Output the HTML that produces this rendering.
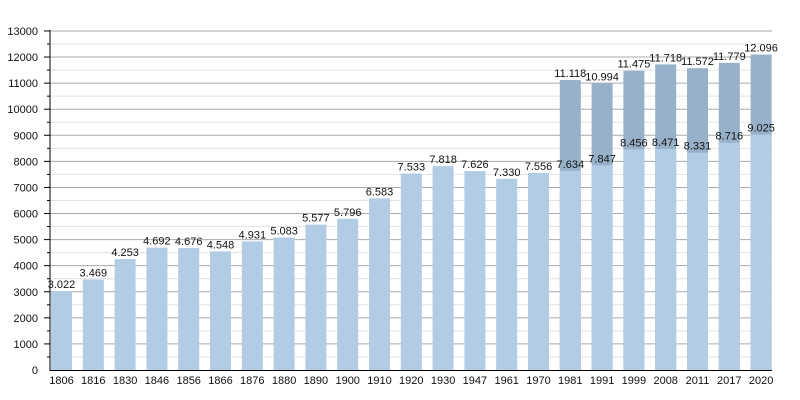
<!DOCTYPE html>
<html><head><meta charset="utf-8"><style>
html,body{margin:0;padding:0;background:#fff;width:800px;height:400px;overflow:hidden}
svg text{font-family:"Liberation Sans",sans-serif;font-size:11px;fill:#111}
</style></head><body>
<svg id="c" width="800" height="400" xmlns="http://www.w3.org/2000/svg"></svg>
<script>
var s='';
var y0=370,k=26.08/1000;
for(var v=500;v<=13000;v+=500){
  var y=y0-v*k;
  if(v%1000==0){
    s+='<line x1="50" x2="772" y1="'+y+'" y2="'+y+'" stroke="#aaa" stroke-width="1"/>';
    s+='<line x1="44" x2="50" y1="'+y+'" y2="'+y+'" stroke="#000"/>';
  }else{
    s+='<line x1="50" x2="772" y1="'+y+'" y2="'+y+'" stroke="#e2e2e2" stroke-width="1"/>';
    s+='<line x1="47" x2="50" y1="'+y+'" y2="'+y+'" stroke="#000"/>';
  }
}
for(var v=0;v<=13000;v+=1000){
  s+='<text x="38" y="'+(y0-v*k+4)+'" text-anchor="end">'+v+'</text>';
}
var yrs=[1806,1816,1830,1846,1856,1866,1876,1880,1890,1900,1910,1920,1930,1947,1961,1970,1981,1991,1999,2008,2011,2017,2020];
var a=[3022,3469,4253,4692,4676,4548,4931,5083,5577,5796,6583,7533,7818,7626,7330,7556,7634,7847,8456,8471,8331,8716,9025];
var t=[0,0,0,0,0,0,0,0,0,0,0,0,0,0,0,0,11118,10994,11475,11718,11572,11779,12096];
function f(n){var x=String(n);return x.slice(0,x.length-3)+'.'+x.slice(-3);}
for(var i=0;i<23;i++){
  var x=51+31.8*i,w=21,cx=x+w/2;
  if(t[i]){
    s+='<rect x="'+x+'" y="'+(y0-t[i]*k)+'" width="'+w+'" height="'+(t[i]*k)+'" fill="#98b1ca"/>';
  }
  s+='<rect x="'+x+'" y="'+(y0-a[i]*k)+'" width="'+w+'" height="'+(a[i]*k)+'" fill="#b2cce6"/>';
  s+='<text x="'+cx+'" y="'+(y0-a[i]*k-3)+'" text-anchor="middle">'+f(a[i])+'</text>';
  if(t[i]) s+='<text x="'+cx+'" y="'+(y0-t[i]*k-3)+'" text-anchor="middle">'+f(t[i])+'</text>';
  s+='<text x="'+cx+'" y="384" text-anchor="middle">'+yrs[i]+'</text>';
}
s+='<line x1="50" x2="50" y1="30" y2="370.5" stroke="#000"/>';
s+='<line x1="49.5" x2="772" y1="370.5" y2="370.5" stroke="#000"/>';
document.getElementById('c').innerHTML=s;
</script>
</body></html>
